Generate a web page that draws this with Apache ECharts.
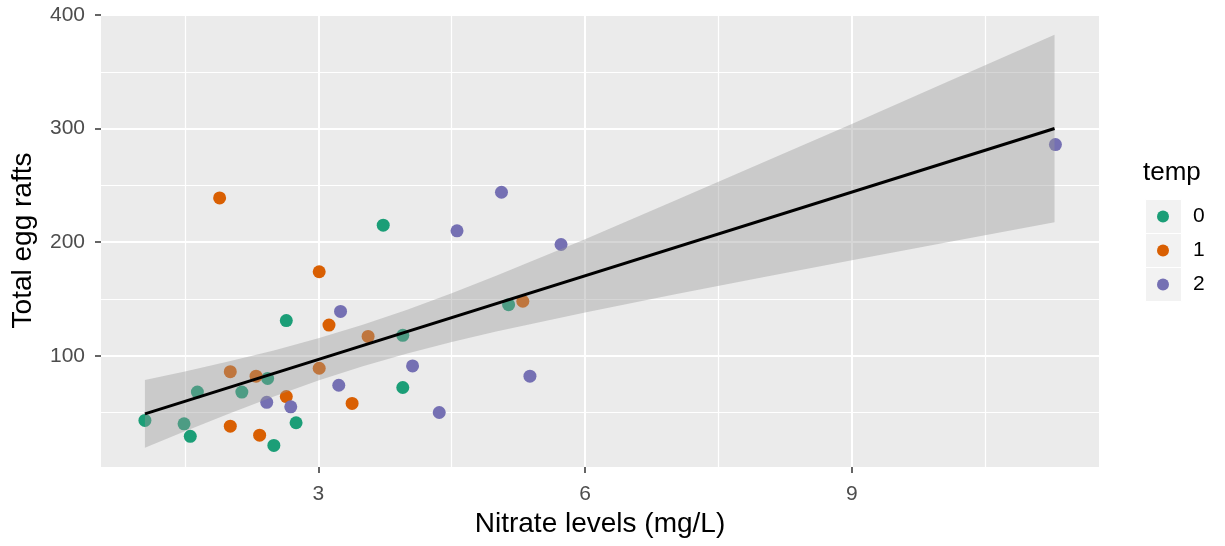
<!DOCTYPE html>
<html>
<head>
<meta charset="utf-8">
<script src="https://cdn.jsdelivr.net/npm/echarts@6/dist/echarts.min.js"></script>
<style>
  html, body { margin: 0; padding: 0; background: #ffffff; }
  #chart { width: 1225px; height: 546px; }
</style>
</head>
<body>
<div id="chart"></div>
<script>
// ---- data ----
const groupNames = ['0', '1', '2'];
const groupColors = ['#1B9E77', '#D95F02', '#7570B3'];

const temp0X = [1.05, 1.49, 1.56, 1.64, 2.14, 2.43, 2.50, 2.64, 2.75, 3.73, 3.95, 3.95, 5.14];
const temp0Y = [43, 40, 29, 68, 68, 80, 21, 131, 41, 215, 118, 72, 145];

const temp1X = [1.89, 2.01, 2.01, 2.30, 2.34, 2.64, 3.01, 3.01, 3.12, 3.38, 3.56, 5.30];
const temp1Y = [239, 86, 38, 82, 30, 64, 174, 89, 127, 58, 117, 148];

const temp2X = [2.42, 2.69, 3.25, 3.23, 4.06, 4.36, 4.56, 5.06, 5.38, 5.73, 11.29];
const temp2Y = [59, 55, 139, 74, 91, 50, 210, 244, 82, 198, 286];

// fitted line end points and confidence band
const fitX = [1.05, 11.28];
const fitY = [48.8, 300.1];

const bandX  = [1.05, 1.5, 2, 2.5, 3, 3.5, 4, 4.5, 5, 6, 7, 8, 9, 10, 11.28];
const bandLo = [18.9, 33.5, 49.2, 64.2, 78.1, 90.8, 102.0, 112.1, 121.3, 138.1, 153.9, 169.1, 184.0, 198.8, 217.6];
const bandHi = [78.7, 86.2, 95.1, 104.6, 115.3, 127.2, 140.5, 155.1, 170.5, 202.7, 236.2, 270.1, 304.2, 338.6, 382.7];

const xMajorTicks = [3, 6, 9];
const xMinorTicks = [1.5, 4.5, 7.5, 10.5];
const yMajorTicks = [100, 200, 300, 400];
const yMinorTicks = [50, 150, 250, 350];

const xTitle = 'Nitrate levels (mg/L)';
const yTitle = 'Total egg rafts';
const legendTitle = 'temp';

// ---- chart ----
const FONT = "'Liberation Sans', Arial, sans-serif";
const zip = (xs, ys) => xs.map((x, i) => [x, ys[i]]);
const groupsX = [temp0X, temp1X, temp2X];
const groupsY = [temp0Y, temp1Y, temp2Y];

const chart = echarts.init(document.getElementById('chart'), null, { renderer: 'canvas' });

const xRange = { min: 0.556, max: 11.78 };
const yRange = { min: 2, max: 401 };

const scatterSeries = groupNames.map((name, i) => ({
  name: name,
  type: 'scatter',
  xAxisIndex: 0,
  yAxisIndex: 0,
  data: zip(groupsX[i], groupsY[i]),
  symbol: 'circle',
  symbolSize: 13,
  itemStyle: { color: groupColors[i], opacity: 1 },
  z: 2
}));

const keyBox = (top) => ({
  type: 'rect', left: 1145, top: top,
  shape: { width: 36, height: 34 },
  style: { fill: '#F2F2F2', stroke: '#ffffff', lineWidth: 1 }, z: 0
});

const option = {
  animation: false,
  backgroundColor: '#ffffff',
  textStyle: { fontFamily: FONT },
  title: {
    text: legendTitle,
    left: 1143,
    top: 160,
    padding: 0,
    textStyle: { fontFamily: FONT, fontSize: 26, fontWeight: 'normal', color: '#000000' }
  },
  graphic: [keyBox(199), keyBox(233), keyBox(267)],
  legend: {
    data: groupNames,
    orient: 'vertical',
    left: 1157,
    top: 206,
    padding: 0,
    itemWidth: 50,
    itemHeight: 12,
    itemGap: 13,
    icon: 'circle',
    textStyle: { fontFamily: FONT, fontSize: 21, color: '#000000' },
    selectedMode: false
  },
  grid: {
    left: 101, right: 126, top: 14, bottom: 79,
    show: true, backgroundColor: '#EBEBEB', borderWidth: 0
  },
  xAxis: [
    {
      type: 'value', min: xRange.min, max: xRange.max,
      name: xTitle, nameLocation: 'middle', nameGap: 40,
      nameTextStyle: { fontFamily: FONT, fontSize: 28, color: '#000000' },
      axisLine: { show: false },
      axisTick: { show: true, length: 6, customValues: xMajorTicks, lineStyle: { color: '#333333', width: 1.5 } },
      axisLabel: { customValues: xMajorTicks, fontFamily: FONT, fontSize: 21, color: '#4D4D4D', margin: 17 },
      splitLine: { show: true, lineStyle: { color: '#ffffff', width: 2 } }
    },
    {
      type: 'value', min: xRange.min, max: xRange.max, position: 'bottom',
      axisLine: { show: false },
      axisTick: { show: false, customValues: xMinorTicks },
      axisLabel: { show: false, customValues: xMinorTicks },
      splitLine: { show: true, lineStyle: { color: '#ffffff', width: 1.2 } }
    }
  ],
  yAxis: [
    {
      type: 'value', min: yRange.min, max: yRange.max,
      name: yTitle, nameLocation: 'middle', nameGap: 64,
      nameTextStyle: { fontFamily: FONT, fontSize: 28, color: '#000000' },
      axisLine: { show: false },
      axisTick: { show: true, length: 6, customValues: yMajorTicks, lineStyle: { color: '#333333', width: 1.5 } },
      axisLabel: { customValues: yMajorTicks, fontFamily: FONT, fontSize: 21, color: '#4D4D4D', margin: 16 },
      splitLine: { show: true, lineStyle: { color: '#ffffff', width: 2 } }
    },
    {
      type: 'value', min: yRange.min, max: yRange.max, position: 'left',
      axisLine: { show: false },
      axisTick: { show: false, customValues: yMinorTicks },
      axisLabel: { show: false, customValues: yMinorTicks },
      splitLine: { show: true, lineStyle: { color: '#ffffff', width: 1.2 } }
    }
  ],
  series: scatterSeries.concat([
    {
      name: 'band',
      type: 'custom',
      xAxisIndex: 0,
      yAxisIndex: 0,
      z: 3,
      silent: true,
      data: bandX.map((x, i) => [x, bandLo[i], bandHi[i]]),
      encode: { x: 0, y: [1, 2] },
      renderItem: function (params, api) {
        if (params.dataIndex !== 0) return null;
        const pts = [];
        for (let i = 0; i < bandX.length; i++) pts.push(api.coord([bandX[i], bandHi[i]]));
        for (let i = bandX.length - 1; i >= 0; i--) pts.push(api.coord([bandX[i], bandLo[i]]));
        return {
          type: 'polygon',
          shape: { points: pts },
          style: { fill: 'rgba(153,153,153,0.4)', stroke: null }
        };
      }
    },
    {
      name: 'fit',
      type: 'line',
      xAxisIndex: 0,
      yAxisIndex: 0,
      z: 4,
      data: zip(fitX, fitY),
      showSymbol: false,
      symbol: 'none',
      lineStyle: { color: '#000000', width: 3 },
      silent: true
    }
  ])
};

chart.setOption(option);
</script>
</body>
</html>
